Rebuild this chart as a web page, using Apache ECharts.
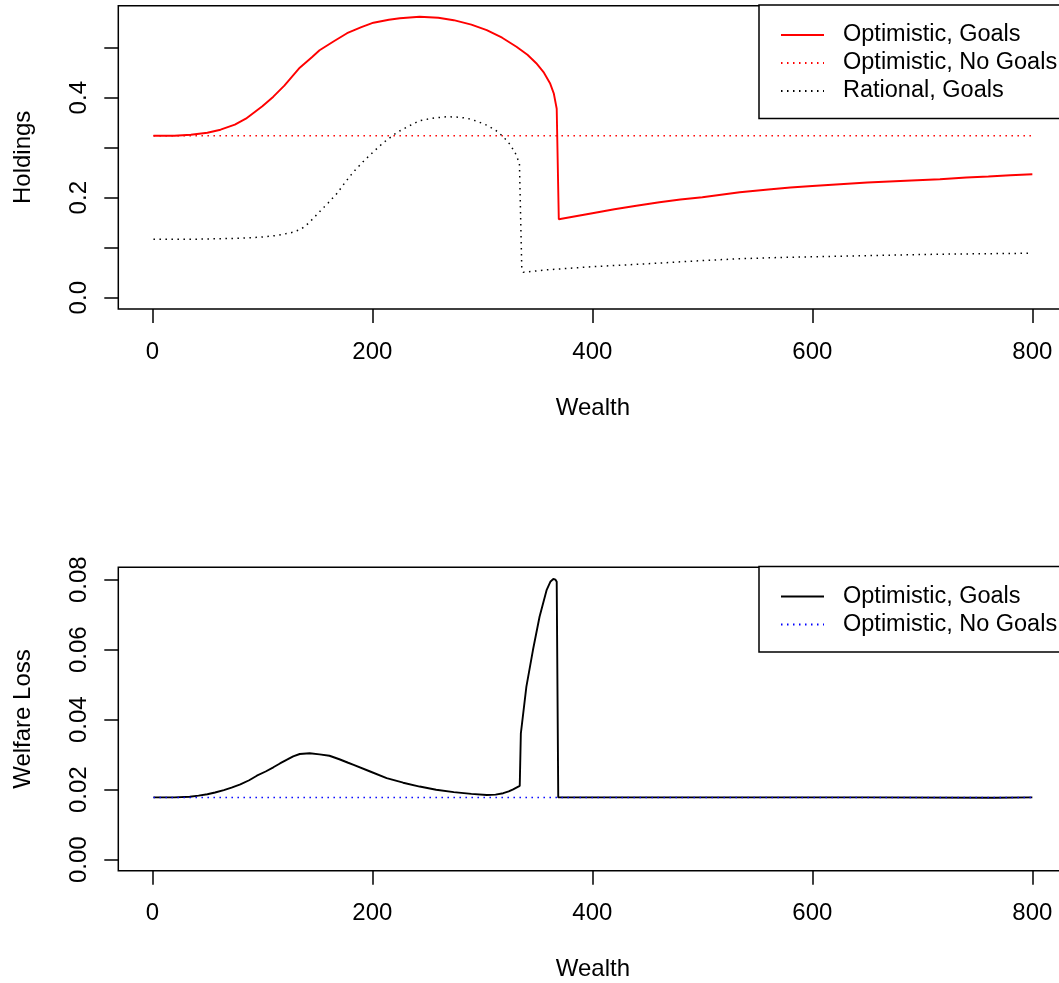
<!DOCTYPE html>
<html lang="en">
<head>
<meta charset="UTF-8">
<title>Holdings and Welfare Loss</title>
<script src="https://cdn.jsdelivr.net/npm/echarts@6/dist/echarts.min.js"></script>
<style>
  body { margin: 0; background: #fff; }
  #chart { width: 1059px; height: 983px; }
</style>
</head>
<body>
<div id="chart"></div>
<script>
// values (wealth on x)
const optGoalsW = [1, 20, 35, 50, 62, 75, 85, 100, 110, 120, 134, 145, 152, 165, 177, 190, 201, 215, 225, 243,
  260, 274, 290, 304, 318, 331, 341, 349, 356, 361.5, 365, 367.6, 369.5, 400, 420, 440, 461, 480, 500, 534, 560, 580, 600,
  625, 650, 690, 716, 740, 760, 780, 800];
const optGoalsH = [0.324, 0.324, 0.326, 0.330, 0.336, 0.346, 0.358, 0.383, 0.402, 0.424, 0.460, 0.481, 0.495, 0.513, 0.529, 0.541, 0.550, 0.556, 0.559, 0.562,
  0.560, 0.555, 0.546, 0.535, 0.520, 0.502, 0.486, 0.469, 0.450, 0.429, 0.408, 0.378, 0.157, 0.169, 0.177, 0.184, 0.191, 0.1965, 0.201, 0.211, 0.2165, 0.2205, 0.2235,
  0.227, 0.2305, 0.2345, 0.237, 0.2405, 0.2425, 0.2448, 0.247];

const optNoGoalsW = [1, 800];
const optNoGoalsH = [0.324, 0.324];

const ratGoalsW = [1, 40, 62, 80, 98, 115, 128, 135, 140, 146, 152, 160, 168, 175, 183, 192, 201, 210, 222, 232, 243, 255, 268, 278,
  286, 295, 304, 312, 319, 325, 330, 333.7, 335.8, 337.3, 360, 400, 443, 490, 534, 580, 625, 670, 716, 760, 800];
const ratGoalsH = [0.117, 0.117, 0.118, 0.119, 0.121, 0.125, 0.131, 0.137, 0.145, 0.158, 0.172, 0.190, 0.209, 0.230, 0.252, 0.273, 0.292, 0.310, 0.330, 0.342, 0.354, 0.359, 0.362, 0.361,
  0.359, 0.353, 0.345, 0.335, 0.322, 0.307, 0.289, 0.269, 0.062, 0.051, 0.056, 0.062, 0.067, 0.073, 0.078, 0.081, 0.083, 0.085, 0.087, 0.088, 0.089];

const lossGoalsW = [1, 20, 34, 42, 50, 57, 65, 72, 80, 88, 95, 103, 110, 116, 122, 128, 134, 143, 152, 161, 170, 178, 183, 198, 213, 228, 243, 258,
  274, 290, 304, 312, 319, 324, 328, 334, 335, 340, 346, 352, 358.5, 362, 364.5, 366.5, 367.6, 369, 450, 550, 650, 765, 800];
const lossGoalsV = [0.0178, 0.0178, 0.0180, 0.0183, 0.0187, 0.0192, 0.0199, 0.0206, 0.0215, 0.0227, 0.0240, 0.0252, 0.0264, 0.0275, 0.0285, 0.0295, 0.0302, 0.0304, 0.0301, 0.0297, 0.0287, 0.0277, 0.0271, 0.0252, 0.0233, 0.0220, 0.0209, 0.0200,
  0.0193, 0.0188, 0.0185, 0.0186, 0.0190, 0.0195, 0.0201, 0.0211, 0.0361, 0.0494, 0.0599, 0.0694, 0.0771, 0.0795, 0.0802, 0.0800, 0.0794, 0.0178, 0.0178, 0.0178, 0.0178, 0.0177, 0.0178];

const lossNoGoalsW = [1, 800];
const lossNoGoalsV = [0.0178, 0.0178];

const xTicks = [0, 200, 400, 600, 800];
const holdTicks = [0, 0.1, 0.2, 0.3, 0.4, 0.5];
const holdLabels = [0, 0.2, 0.4];
const lossTicks = [0, 0.02, 0.04, 0.06, 0.08];

const font = 'Liberation Sans, Arial, sans-serif';

function zip(xs, ys) {
    return xs.map((x, i) => [x, ys[i]]);
}

function xAxisFor(gridIndex) {
    return {
        type: 'value', gridIndex: gridIndex,
        min: -30.96, max: 831.96,
        name: 'Wealth', nameLocation: 'middle', nameGap: 87,
        nameTextStyle: { fontFamily: font, fontSize: 24, color: '#000', lineHeight: 24 },
        axisLine: { show: false, onZero: false },
        axisTick: { show: true, inside: false, length: 14, customValues: xTicks,
            lineStyle: { color: '#000', width: 1.5 } },
        axisLabel: { customValues: xTicks, margin: 31, fontFamily: font, fontSize: 24,
            color: '#000', lineHeight: 24, formatter: v => String(v) },
        splitLine: { show: false }
    };
}

function yAxisFor(gridIndex, name, min, max, ticks, labels, digits) {
    return {
        type: 'value', gridIndex: gridIndex,
        min: min, max: max,
        name: name, nameLocation: 'middle', nameGap: 83,
        nameTextStyle: { fontFamily: font, fontSize: 24, color: '#000', lineHeight: 24 },
        axisLine: { show: false, onZero: false },
        axisTick: { show: true, inside: false, length: 14, customValues: ticks,
            lineStyle: { color: '#000', width: 1.5 } },
        axisLabel: { customValues: labels, rotate: 90, margin: 27, fontFamily: font, fontSize: 24,
            color: '#000', lineHeight: 24, formatter: v => v.toFixed(digits) },
        splitLine: { show: false }
    };
}

function legendFor(top, names) {
    return {
        orient: 'vertical', left: 759, top: top,
        data: names,
        itemWidth: 43, itemHeight: 14, itemGap: 4,
        padding: [18, 12, 15.5, 21],
        borderColor: '#000', borderWidth: 1.5, backgroundColor: '#fff',
        selectedMode: false,
        itemStyle: { opacity: 0 },
        textStyle: { fontFamily: font, fontSize: 23.5, color: '#000', lineHeight: 24, padding: [0, 0, 0, 14] },
        formatter: n => n.trim()
    };
}

function lineSeries(name, xi, data, color, dotted) {
    return {
        name: name, type: 'line', xAxisIndex: xi, yAxisIndex: xi,
        data: data, symbol: 'none', smooth: false, silent: true,
        lineStyle: { color: color, width: dotted ? 1.5 : 1.9, type: dotted ? [1.5, 4.5] : 'solid' },
        itemStyle: { color: color }
    };
}

const chart = echarts.init(document.getElementById('chart'));

chart.setOption({
    animation: false,
    backgroundColor: '#fff',
    grid: [
        { left: 118.3, top: 5.7, right: -8.5, height: 303.3, show: true,
          borderColor: '#000', borderWidth: 1.5, containLabel: false, outerBoundsMode: 'none' },
        { left: 118.3, top: 567.3, right: -8.5, height: 303.4, show: true,
          borderColor: '#000', borderWidth: 1.5, containLabel: false, outerBoundsMode: 'none' }
    ],
    xAxis: [xAxisFor(0), xAxisFor(1)],
    yAxis: [
        yAxisFor(0, 'Holdings', -0.0226, 0.584, holdTicks, holdLabels, 1),
        yAxisFor(1, 'Welfare Loss', -0.00314, 0.08354, lossTicks, lossTicks, 2)
    ],
    legend: [
        legendFor(5, ['Optimistic, Goals', 'Optimistic, No Goals', 'Rational, Goals']),
        legendFor(566.6, ['Optimistic, Goals ', 'Optimistic, No Goals '])
    ],
    series: [
        lineSeries('Optimistic, Goals', 0, zip(optGoalsW, optGoalsH), '#ff0000', false),
        lineSeries('Optimistic, No Goals', 0, zip(optNoGoalsW, optNoGoalsH), '#ff0000', true),
        lineSeries('Rational, Goals', 0, zip(ratGoalsW, ratGoalsH), '#000000', true),
        lineSeries('Optimistic, Goals ', 1, zip(lossGoalsW, lossGoalsV), '#000000', false),
        lineSeries('Optimistic, No Goals ', 1, zip(lossNoGoalsW, lossNoGoalsV), '#0000ff', true)
    ]
});
</script>
</body>
</html>
